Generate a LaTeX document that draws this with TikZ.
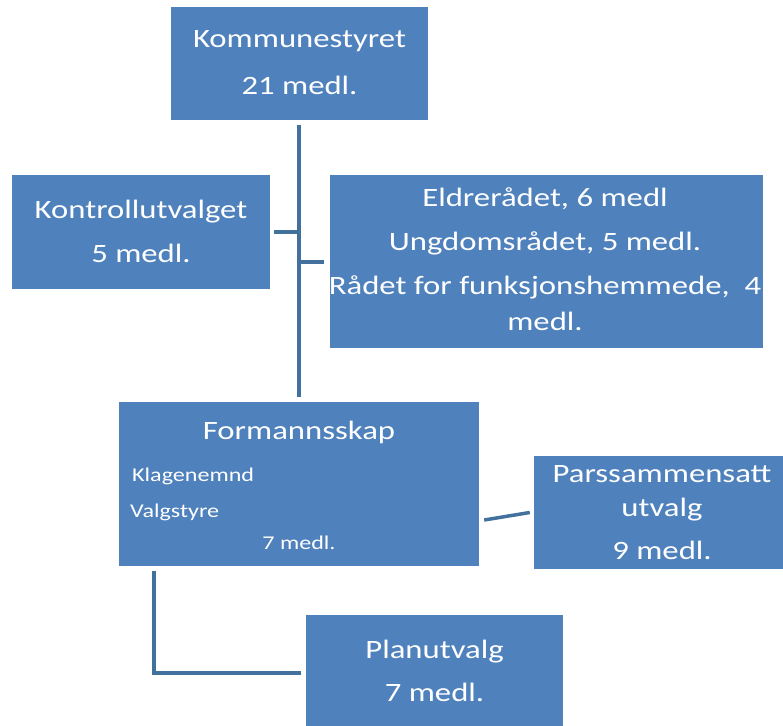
\documentclass[tikz,border=0pt]{standalone}
\usepackage{fontspec}
\setmainfont{Carlito}[FakeStretch=1.235]
\definecolor{boxblue}{HTML}{4F81BD}
\definecolor{linkblue}{HTML}{41719C}
\begin{document}
\begin{tikzpicture}[x=1pt,y=-1pt,
  orgbox/.style={rectangle,fill=boxblue,draw=none,inner sep=0pt},
  conn/.style={draw=linkblue,line width=4pt},
  bigtxt/.style={text=white,font=\fontsize{26.5}{30}\selectfont,inner sep=0pt,anchor=base},
  smalltxt/.style={text=white,font=\fontsize{19.5}{24}\selectfont,inner sep=0pt,anchor=base west}]
\useasboundingbox (0,0) rectangle (783,725);
% boxes
\node[orgbox,minimum width=257pt,minimum height=113pt] (kom) at (299.5,63.5) {};
\node[orgbox,minimum width=258pt,minimum height=114pt] (kon) at (140.5,232) {};
\node[orgbox,minimum width=433pt,minimum height=173pt] (rad) at (546.5,261.5) {};
\node[orgbox,minimum width=360pt,minimum height=164pt] (form) at (299,484) {};
\node[orgbox,minimum width=256pt,minimum height=113pt] (pars) at (662,512.5) {};
\node[orgbox,minimum width=257pt,minimum height=114pt] (plan) at (434.5,672) {};
% texts
\node[bigtxt] (komA) at (299.5,48) {Kommunestyret};
\node[bigtxt] (komB) at (299.5,94) {21 medl.};
\node[bigtxt] (konA) at (141,218) {Kontrollutvalget};
\node[bigtxt] (konB) at (141,262) {5 medl.};
\node[bigtxt] (radA) at (545,206) {Eldrerådet, 6 medl};
\node[bigtxt] (radB) at (545,250) {Ungdomsrådet, 5 medl.};
\node[bigtxt] (radC) at (545,294) {Rådet for funksjonshemmede,\ \ 4};
\node[bigtxt] (radD) at (545,330) {medl.};
\node[bigtxt] (formA) at (299,439) {Formannsskap};
\node[smalltxt] (formB) at (132,481) {Klagenemnd};
\node[smalltxt] (formC) at (130,517) {Valgstyre};
\node[text=white,font=\fontsize{19.5}{24}\selectfont,inner sep=0pt,anchor=base] (formD) at (299,549) {7 medl.};
\node[bigtxt] (parsA) at (662,482) {Parssammensatt};
\node[bigtxt] (parsB) at (662,516) {utvalg};
\node[bigtxt] (parsC) at (662,559) {9 medl.};
\node[bigtxt] (planA) at (434.5,658) {Planutvalg};
\node[bigtxt] (planB) at (434.5,701) {7 medl.};
% connectors
\draw[conn] ([yshift=-5pt]kom.south -| form.north) -- ([yshift=5pt]form.north);
\draw[conn] ([xshift=4pt]kon.east) -- (kon.east -| form.north);
\draw[conn] ([xshift=-6pt]rad.west) -- (rad.west -| form.north);
\draw[conn,line width=3.5pt] ([shift={(5pt,-36pt)}]form.east) -- ([xshift=-4pt]pars.west);
\draw[conn] ([shift={(35pt,-5pt)}]form.south west) |- ([shift={(-5pt,-1pt)}]plan.west);
\end{tikzpicture}
\end{document}
